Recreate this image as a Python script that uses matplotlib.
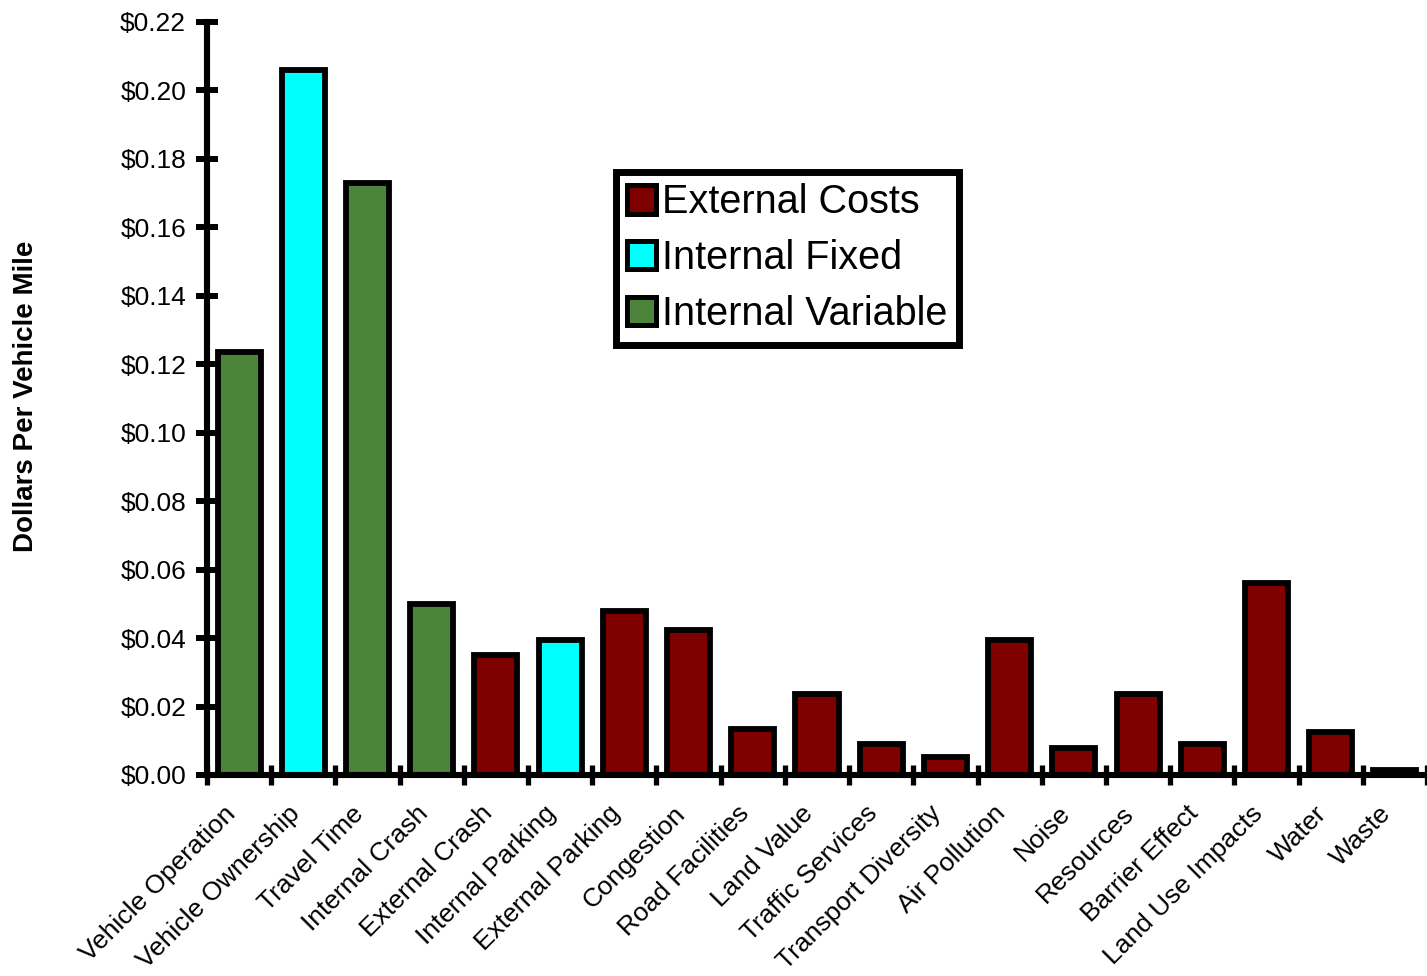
import matplotlib
matplotlib.use("Agg")
import matplotlib.pyplot as plt
import matplotlib.transforms as mtransforms
from matplotlib.patches import Patch

# Cost categories and their per-mile cost (US dollars per vehicle mile)
categories = [
    "Vehicle Operation", "Vehicle Ownership", "Travel Time", "Internal Crash",
    "External Crash", "Internal Parking", "External Parking", "Congestion",
    "Road Facilities", "Land Value", "Traffic Services", "Transport Diversity",
    "Air Pollution", "Noise", "Resources", "Barrier Effect", "Land Use Impacts",
    "Water", "Waste",
]
costs = [
    0.1235, 0.206, 0.173, 0.050,
    0.035, 0.0395, 0.048, 0.0425,
    0.0135, 0.0238, 0.009, 0.0053,
    0.0395, 0.008, 0.0238, 0.009, 0.056,
    0.0127, 0.0015,
]
cost_type = [
    "Internal Variable", "Internal Fixed", "Internal Variable", "Internal Variable",
    "External Costs", "Internal Fixed", "External Costs", "External Costs",
    "External Costs", "External Costs", "External Costs", "External Costs",
    "External Costs", "External Costs", "External Costs", "External Costs", "External Costs",
    "External Costs", "External Costs",
]
legend_order = ["External Costs", "Internal Fixed", "Internal Variable"]
type_colors = {
    "External Costs": "#800000",
    "Internal Fixed": "#00FFFF",
    "Internal Variable": "#4C843C",
}
y_ticks = [0.00, 0.02, 0.04, 0.06, 0.08, 0.10, 0.12, 0.14, 0.16, 0.18, 0.20, 0.22]
y_tick_labels = [f"${v:.2f}" for v in y_ticks]

FONT = "Liberation Sans"
DPI = 100
fig = plt.figure(figsize=(14.27, 9.76), dpi=DPI)
fig.patch.set_facecolor("white")

W, H = 1427, 976
ax = fig.add_axes([207 / W, (H - 775) / H, (W - 207) / W, (775 - 22) / H])

positions = [i + 0.5 for i in range(len(categories))]
bar_colors = [type_colors[t] for t in cost_type]
ax.bar(positions, costs, width=0.67, color=bar_colors, edgecolor="black",
       linewidth=4.2, zorder=2)

ax.set_xlim(0, len(categories))
ax.set_ylim(0, 0.22)

# Spines
for side in ("top", "right"):
    ax.spines[side].set_visible(False)
for side in ("left", "bottom"):
    ax.spines[side].set_linewidth(4.4)
    ax.spines[side].set_zorder(3)

# Y axis ticks and labels
ax.set_yticks(y_ticks)
ax.set_yticklabels(y_tick_labels, fontname=FONT, fontsize=19)
ax.tick_params(axis="y", direction="inout", length=16, width=4.3, pad=7)

# X axis: major ticks at category boundaries, labels at category centres
ax.set_xticks(range(len(categories) + 1))
ax.set_xticklabels([])
ax.set_xticks(positions, minor=True)
ax.set_xticklabels(categories, minor=True, fontname=FONT, fontsize=19,
                   rotation=45, ha="right", va="top", rotation_mode="anchor")
ax.tick_params(axis="x", which="major", direction="inout", length=15, width=3.8)
ax.tick_params(axis="x", which="minor", length=0, pad=19)
shift = mtransforms.ScaledTranslation(-16 / DPI, 0, fig.dpi_scale_trans)
for lbl in ax.get_xticklabels(minor=True):
    lbl.set_transform(lbl.get_transform() + shift)

# Y axis title
ax.set_ylabel("Dollars Per Vehicle Mile", fontname=FONT, fontsize=20,
              fontweight="bold")
ax.yaxis.label.set_va("center")
ax.yaxis.set_label_coords((26 - 207) / 1220, (775 - 396) / 753)

# Legend
handles = [Patch(facecolor=type_colors[t], edgecolor="black", linewidth=3.6)
           for t in legend_order]
leg = fig.legend(handles, legend_order, loc="upper left",
                 bbox_to_anchor=(615.5 / W, 1 - 171.5 / H),
                 bbox_transform=fig.transFigure, borderaxespad=0,
                 prop={"family": FONT, "size": 28.5},
                 handlelength=0.72, handleheight=0.72, handletextpad=0.15,
                 labelspacing=0.45, borderpad=0.3, fancybox=False,
                 framealpha=1, edgecolor="black")
leg.get_frame().set_linewidth(5)

fig.savefig("out.png", dpi=DPI, facecolor="white")
